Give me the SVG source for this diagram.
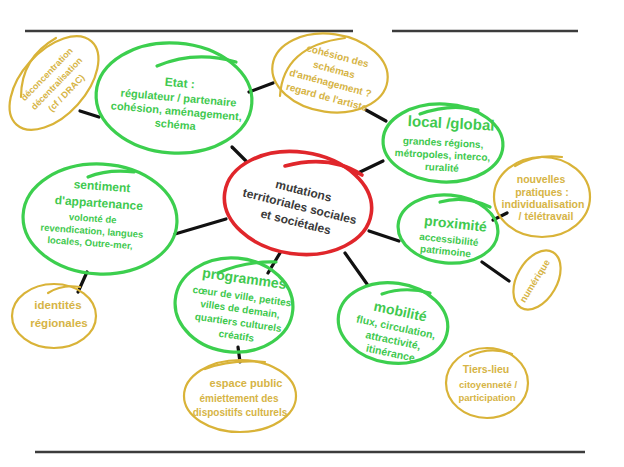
<svg xmlns="http://www.w3.org/2000/svg" width="624" height="467" viewBox="0 0 624 467">
<style>
.g{fill:none;stroke:#3ccf4e;stroke-width:3.2;stroke-linecap:round}
.y{fill:none;stroke:#d9b338;stroke-width:2.2;stroke-linecap:round}
.r{fill:none;stroke:#e0262b;stroke-width:3.6;stroke-linecap:round}
.c line{stroke:#111;stroke-width:3.2;stroke-linecap:round}
.rule{stroke:#3c3c3c;stroke-width:2.6}
text{font-family:"Liberation Sans",Arial,sans-serif;font-weight:bold;text-anchor:middle}
.gt{fill:#3fc94f}
.yt{fill:#d6b445}
.rt{fill:#3b3b3b}
</style>
<rect width="624" height="467" fill="#fff"/>
<line class="rule" x1="25" y1="31" x2="353" y2="31"/>
<line class="rule" x1="392" y1="31" x2="578" y2="31"/>
<line class="rule" x1="35" y1="452" x2="585" y2="452"/>

<g id="connectors" class="c">
<line x1="80" y1="111" x2="99" y2="117"/>
<line x1="249" y1="92" x2="273" y2="83"/>
<line x1="232" y1="147" x2="246" y2="161"/>
<line x1="366" y1="110" x2="386" y2="121"/>
<line x1="358" y1="173" x2="383" y2="161"/>
<line x1="175" y1="234" x2="226" y2="219"/>
<line x1="369" y1="231" x2="399" y2="241"/>
<line x1="268" y1="273" x2="280" y2="253"/>
<line x1="345" y1="253" x2="367" y2="284"/>
<line x1="493" y1="220" x2="507" y2="213"/>
<line x1="482" y1="262" x2="509" y2="281"/>
<line x1="87" y1="272" x2="78" y2="292"/>
<line x1="238" y1="347" x2="240" y2="362"/>
</g>

<g id="n-decon">
<ellipse class="y" cx="54" cy="83" rx="56" ry="32" transform="rotate(-48 54 83)"/>
<path class="y" d="M21 97 Q21 58 56 38"/>
<g transform="rotate(-46 57 84)" class="yt" font-size="9">
<text x="57" y="73">déconcentration</text>
<text x="57" y="86.5">décentralisation</text>
<text x="57" y="100">(cf / DRAC)</text>
</g>
</g>

<g id="n-etat">
<ellipse class="g" cx="174" cy="98" rx="78" ry="55" transform="rotate(4 174 98)"/>
<path class="g" d="M157 66 Q195 50 236 62"/>
<g transform="rotate(5 178 104)" class="gt" font-size="11">
<text x="178" y="87" font-size="12">Etat :</text>
<text x="178" y="101.5">régulateur / partenaire</text>
<text x="177" y="115">cohésion, aménagement,</text>
<text x="177" y="128.5">schéma</text>
</g>
</g>

<g id="n-cohesion">
<ellipse class="y" cx="330" cy="73" rx="58" ry="39" transform="rotate(8 330 73)"/>
<path class="y" d="M280 96 Q283 46 345 38"/>
<g transform="rotate(15 330 73)" class="yt" font-size="10">
<text x="333" y="58">cohésion des</text>
<text x="333" y="72">schémas</text>
<text x="333" y="86">d'aménagement ?</text>
<text x="333" y="100.5">regard de l'artiste</text>
</g>
</g>

<g id="n-local">
<ellipse class="g" cx="443" cy="143" rx="60" ry="39" transform="rotate(3 443 143)"/>
<path class="g" d="M420 114 Q450 103 478 110"/>
<g transform="rotate(3 443 145)" class="gt">
<text x="450" y="128" font-size="15">local /global</text>
<text x="443" y="146" font-size="10">grandes régions,</text>
<text x="443" y="158.5" font-size="10">métropoles, interco,</text>
<text x="443" y="171" font-size="10">ruralité</text>
</g>
</g>

<g id="n-center">
<ellipse class="r" cx="298" cy="203" rx="74" ry="51" transform="rotate(8 298 203)"/>
<path class="r" d="M285 166 Q330 154 362 175"/>
<g transform="rotate(14 298 205)" class="rt" font-size="12">
<text x="300" y="194">mutations</text>
<text x="300" y="210">territoriales sociales</text>
<text x="300" y="226">et sociétales</text>
</g>
</g>

<g id="n-sentiment">
<ellipse class="g" cx="100" cy="219" rx="77" ry="55" transform="rotate(3 100 219)"/>
<path class="g" d="M88 177 Q108 169 134 172"/>
<g transform="rotate(4 97 215)" class="gt">
<text x="100" y="190" font-size="12">sentiment</text>
<text x="98" y="207" font-size="12">d'appartenance</text>
<text x="93" y="222" font-size="9.5">volonté de</text>
<text x="93" y="234.5" font-size="9.5">revendication, langues</text>
<text x="92" y="246.5" font-size="9.5">locales, Outre-mer,</text>
</g>
</g>

<g id="n-nouvelles">
<ellipse class="y" cx="542" cy="197" rx="48" ry="40"/>
<path class="y" d="M515 166 Q535 154 562 157"/>
<g class="yt" font-size="10.5">
<text x="541" y="183">nouvelles</text>
<text x="542" y="195.5">pratiques :</text>
<text x="543" y="207.5">individualisation</text>
<text x="546" y="219.5">/ télétravail</text>
</g>
</g>

<g id="n-proximite">
<ellipse class="g" cx="448" cy="229" rx="50" ry="34" transform="rotate(5 448 229)"/>
<path class="g" d="M440 202 Q465 195 490 207"/>
<g transform="rotate(6 450 238)" class="gt">
<text x="454" y="228" font-size="14">proximité</text>
<text x="449" y="243" font-size="10">accessibilité</text>
<text x="447" y="255" font-size="10">patrimoine</text>
</g>
</g>

<g id="n-numerique">
<ellipse class="y" cx="537" cy="280" rx="32" ry="20" transform="rotate(-60 537 280)"/>
<text class="yt" font-size="9.5" x="535" y="284" transform="rotate(-58 535 281)">numérique</text>
</g>

<g id="n-programmes">
<ellipse class="g" cx="234" cy="305" rx="59" ry="47" transform="rotate(5 234 305)"/>
<path class="g" d="M218 273 Q245 261 276 262"/>
<g transform="rotate(8 240 310)" class="gt">
<text x="240" y="283" font-size="14">programmes</text>
<text x="240" y="299.5" font-size="10">cœur de ville, petites</text>
<text x="240" y="312.5" font-size="10">villes de demain,</text>
<text x="240" y="326" font-size="10">quartiers culturels</text>
<text x="240" y="339.5" font-size="10">créatifs</text>
</g>
</g>

<g id="n-mobilite">
<ellipse class="g" cx="393" cy="323" rx="55" ry="40" transform="rotate(8 393 323)"/>
<path class="g" d="M382 294 Q405 286 430 293"/>
<g transform="rotate(12 397 332)" class="gt">
<text x="396" y="316" font-size="14">mobilité</text>
<text x="395" y="331" font-size="10.5">flux, circulation,</text>
<text x="395" y="344.5" font-size="10.5">attractivité,</text>
<text x="395" y="357.5" font-size="10.5">itinérance</text>
</g>
</g>

<g id="n-identites">
<ellipse class="y" cx="54" cy="316" rx="42" ry="32"/>
<path class="y" d="M48 293 Q62 284 80 287"/>
<g class="yt" font-size="11.5">
<text x="58" y="309">identités</text>
<text x="59" y="327">régionales</text>
</g>
</g>

<g id="n-espace">
<ellipse class="y" cx="240" cy="396" rx="56" ry="36"/>
<path class="y" d="M205 369 Q230 359 265 362"/>
<g class="yt">
<text x="246" y="387" font-size="11">espace public</text>
<text x="239" y="401.5" font-size="10">émiettement des</text>
<text x="240" y="416" font-size="10">dispositifs culturels</text>
</g>
</g>

<g id="n-tiers">
<ellipse class="y" cx="487" cy="383" rx="41" ry="35"/>
<path class="y" d="M470 356 Q490 346 512 354"/>
<g class="yt">
<text x="486" y="373" font-size="10.5">Tiers-lieu</text>
<text x="488" y="388" font-size="9.5">citoyenneté /</text>
<text x="487" y="400.5" font-size="9.5">participation</text>
</g>
</g>
</svg>
